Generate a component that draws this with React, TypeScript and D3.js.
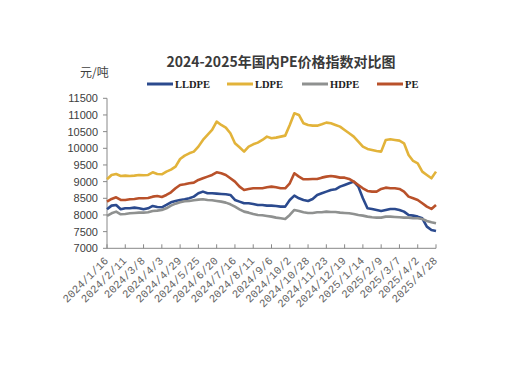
import * as d3 from "d3";
import React from "react";

const WIDTH = 509;
const HEIGHT = 368;

// sample grid: every 6.5 days starting 2024/1/16
const START = "2024-01-16";
const STEP_HOURS = 156;

const lldpe = [
  8170, 8280, 8300, 8170, 8200, 8200, 8220, 8200, 8170, 8200, 8270, 8240, 8230, 8300, 8380, 8420, 8450, 8470, 8500, 8550,
  8650, 8700, 8650, 8650, 8640, 8630, 8620, 8600, 8450, 8400, 8350, 8350, 8330, 8300, 8300, 8280, 8280, 8270, 8250, 8250,
  8450, 8580, 8500, 8450, 8420, 8480, 8600, 8650, 8700, 8750, 8770, 8850, 8900, 8950, 9000, 8850, 8500, 8200, 8180, 8150,
  8120, 8150, 8180, 8180, 8150, 8100, 8000, 7980, 7950, 7900, 7650, 7550, 7520,
];
const ldpe = [
  9070, 9200, 9230, 9170, 9180, 9170, 9180, 9200, 9190, 9200, 9280, 9230, 9220, 9300, 9360, 9450, 9680, 9780, 9850, 9900,
  10050, 10250, 10400, 10550, 10800, 10700, 10620, 10450, 10150, 10030, 9900, 10050, 10120, 10170, 10250, 10350, 10300, 10320, 10350, 10380,
  10700, 11050, 11000, 10750, 10700, 10680, 10680, 10720, 10770, 10750, 10700, 10650, 10550, 10450, 10350, 10200, 10050, 9980, 9950, 9920,
  9900, 10250, 10270, 10250, 10230, 10150, 9800, 9620, 9550, 9300, 9200, 9100, 9300,
];
const hdpe = [
  7970, 8050, 8100, 8020, 8030, 8050, 8060, 8070, 8070, 8080, 8120, 8130, 8150, 8200, 8280, 8340, 8380, 8410, 8420, 8440,
  8460, 8470, 8450, 8440, 8420, 8400, 8370, 8320, 8250, 8170, 8100, 8070, 8030, 8000, 7990, 7970, 7950, 7920, 7900, 7880,
  8000, 8150, 8120, 8080, 8060, 8060, 8080, 8080, 8100, 8090, 8090, 8070, 8060, 8050, 8030, 8000, 7980, 7950, 7930, 7920,
  7920, 7950, 7950, 7940, 7930, 7920, 7920, 7900, 7900, 7880, 7820, 7780, 7750,
];
const pe = [
  8400, 8480, 8530, 8450, 8450, 8470, 8480, 8500, 8500, 8510, 8550, 8570, 8540, 8600, 8680, 8800, 8900, 8920, 8950, 8970,
  9050, 9100, 9150, 9200, 9280, 9250, 9200, 9100, 9000, 8850, 8750, 8780, 8800, 8800, 8800, 8830, 8850, 8830, 8800, 8800,
  8950, 9250, 9150, 9070, 9070, 9080, 9080, 9120, 9150, 9170, 9150, 9120, 9120, 9080, 9000, 8900, 8800, 8720, 8700, 8700,
  8780, 8820, 8800, 8800, 8780, 8700, 8550, 8500, 8450, 8350, 8250, 8180, 8300,
];

const tickLabels = [
  "2024/1/16", "2024/2/11", "2024/3/8", "2024/4/3", "2024/4/29", "2024/5/25", "2024/6/20", "2024/7/16", "2024/8/11",
  "2024/9/6", "2024/10/2", "2024/10/28", "2024/11/23", "2024/12/19", "2025/1/14", "2025/2/9", "2025/3/7", "2025/4/2",
  "2025/4/28",
];
const yTicks = [7000, 7500, 8000, 8500, 9000, 9500, 10000, 10500, 11000, 11500];

const series = [
  { name: "LLDPE", values: lldpe, color: "#2b4a8e" },
  { name: "LDPE", values: ldpe, color: "#e2b33a" },
  { name: "HDPE", values: hdpe, color: "#8f9190" },
  { name: "PE", values: pe, color: "#b9512a" },
];

const parse = d3.timeParse("%Y/%m/%d");
const start = d3.timeParse("%Y-%m-%d")(START) as Date;
const dates = lldpe.map((_, i) => d3.timeHour.offset(start, i * STEP_HOURS));
const tickDates = tickLabels.map((t) => parse(t) as Date);

const x = d3
  .scaleTime()
  .domain([tickDates[0], tickDates[tickDates.length - 1]])
  .range([107, 436]);
const y = d3.scaleLinear().domain([7000, 11500]).range([248.3, 98.3]);

const legendX = [147, 227, 302, 377];

export default function App() {
  return (
    <svg
      width={WIDTH}
      height={HEIGHT}
      viewBox={`0 0 ${WIDTH} ${HEIGHT}`}
      style={{ position: "absolute", left: 0, top: 0, background: "#fff" }}
    >
      <text
        x={281}
        y={67}
        textAnchor="middle"
        fontFamily="'Noto Sans CJK SC', sans-serif"
        fontWeight="bold"
        fontSize={14}
        fill="#3a3a3a"
      >
        2024-2025年国内PE价格指数对比图
      </text>
      <text x={80} y={77} fontFamily="'Noto Sans CJK SC', sans-serif" fontSize={12} fill="#404040">
        元/吨
      </text>

      {series.map((s, i) => (
        <g key={s.name} transform={`translate(${legendX[i]},84)`}>
          <line x1={0} x2={26} y1={0} y2={0} stroke={s.color} strokeWidth={3} />
          <text x={28} y={4} fontFamily="'Liberation Serif', serif" fontWeight="bold" fontSize={10.5} fill="#222">
            {s.name}
          </text>
        </g>
      ))}

      {/* y axis */}
      <line x1={107} x2={107} y1={y(11500)} y2={y(7000)} stroke="#888" />
      {yTicks.map((t) => (
        <g key={t}>
          <line x1={103} x2={107} y1={y(t)} y2={y(t)} stroke="#888" />
          <text
            x={98}
            y={y(t) + 4}
            textAnchor="end"
            fontFamily="'Liberation Sans', Arial, sans-serif"
            fontSize={11}
            fill="#404040"
          >
            {t}
          </text>
        </g>
      ))}

      {/* x axis */}
      <line x1={107} x2={436} y1={y(7000)} y2={y(7000)} stroke="#888" />
      {tickDates.map((d, i) => (
        <g key={tickLabels[i]} transform={`translate(${x(d)},${y(7000)})`}>
          <line y1={0} y2={-4} stroke="#888" />
          <text
            transform="translate(2,13) rotate(-45)"
            textAnchor="end"
            fontFamily="'Liberation Mono', monospace"
            fontSize={11}
            fill="#666"
          >
            {tickLabels[i]}
          </text>
        </g>
      ))}

      {series.map((s) => {
        const line = d3
          .line<number>()
          .x((_, i) => x(dates[i]))
          .y((v) => y(v));
        return (
          <path
            key={s.name}
            d={line(s.values) || ""}
            fill="none"
            stroke={s.color}
            strokeWidth={2.6}
            strokeLinejoin="round"
          />
        );
      })}
    </svg>
  );
}
